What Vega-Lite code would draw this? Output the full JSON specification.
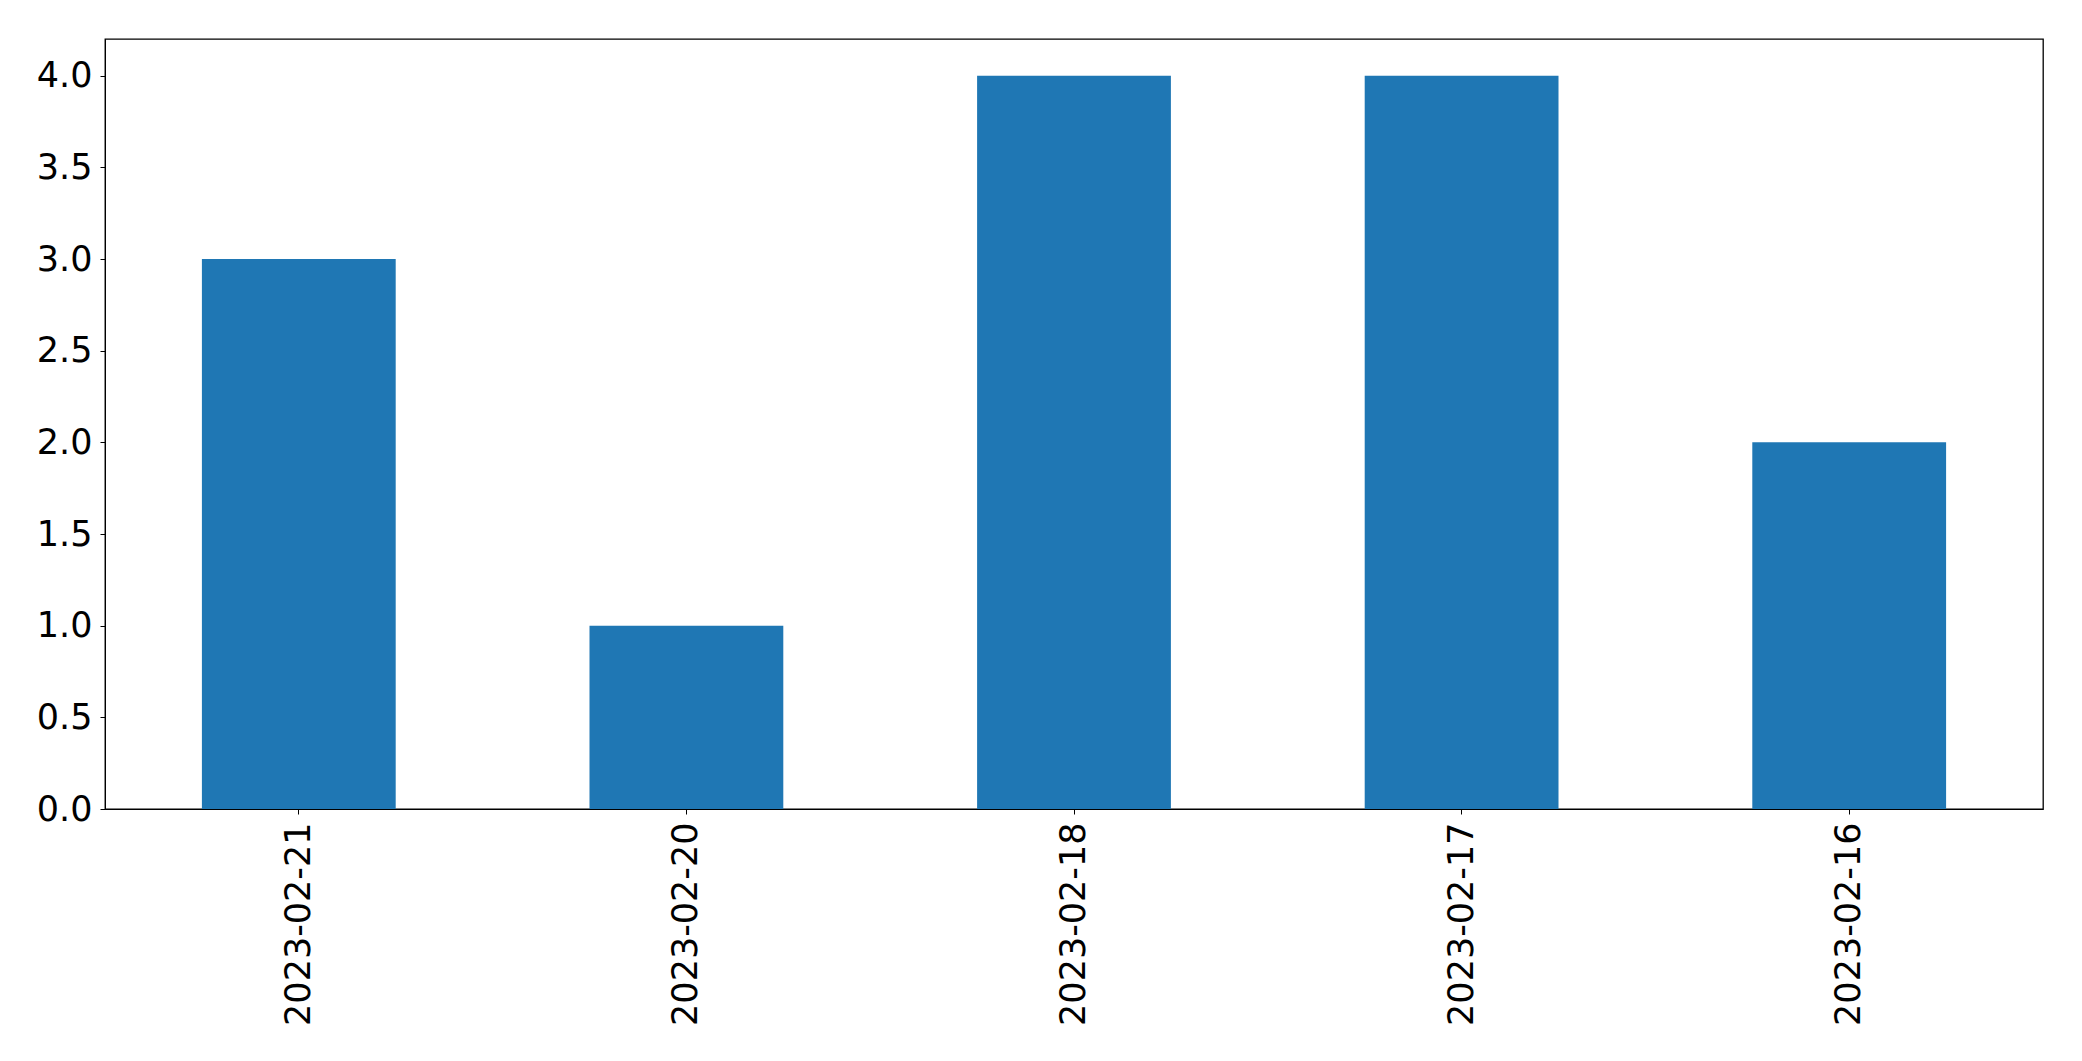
{
  "$schema": "https://vega.github.io/schema/vega-lite/v6.json",
  "width": 1938,
  "height": 770,
  "autosize": {"type": "none"},
  "padding": {"left": 105, "top": 39, "right": 39, "bottom": 252},
  "background": "white",
  "config": {
    "view": {"stroke": "black", "strokeWidth": 1.3},
    "font": "DejaVu Sans"
  },
  "data": {
    "values": [
      {"date": "2023-02-21", "count": 3},
      {"date": "2023-02-20", "count": 1},
      {"date": "2023-02-18", "count": 4},
      {"date": "2023-02-17", "count": 4},
      {"date": "2023-02-16", "count": 2}
    ]
  },
  "mark": {"type": "bar", "color": "#1f77b4"},
  "encoding": {
    "x": {
      "field": "date",
      "type": "nominal",
      "sort": null,
      "scale": {"paddingInner": 0.5, "paddingOuter": 0.25},
      "axis": {
        "title": null,
        "labelAngle": 270,
        "labelLimit": 0,
        "labelFont": "DejaVu Sans",
        "labelFontSize": 35,
        "labelColor": "black",
        "domainColor": "black",
        "tickColor": "black",
        "tickSize": 5,
        "labelPadding": 8
      }
    },
    "y": {
      "field": "count",
      "type": "quantitative",
      "scale": {"domain": [0, 4.2], "nice": false},
      "axis": {
        "title": null,
        "values": [0, 0.5, 1, 1.5, 2, 2.5, 3, 3.5, 4],
        "format": ".1f",
        "grid": false,
        "labelFont": "DejaVu Sans",
        "labelFontSize": 35,
        "labelColor": "black",
        "domainColor": "black",
        "tickColor": "black",
        "tickSize": 5,
        "labelPadding": 8
      }
    }
  }
}
